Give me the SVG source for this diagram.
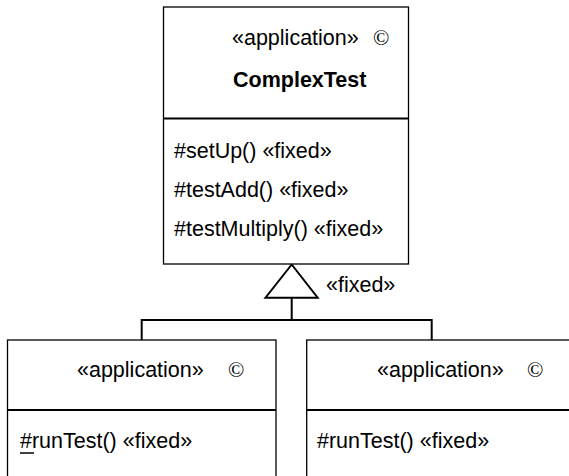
<svg xmlns="http://www.w3.org/2000/svg" width="569" height="476" viewBox="0 0 569 476">
<style>
.box{fill:#fff;stroke:#000;stroke-width:1.3}
.div{stroke:#000;stroke-width:2;fill:none}
.t{font-family:"Liberation Sans",Arial,sans-serif;font-size:21.5px;fill:#000}
.b{font-weight:bold}
.c{font-family:"Liberation Serif","Times New Roman",serif;font-size:21.5px;fill:#000}
.con{stroke:#000;stroke-width:2;fill:none}
</style>
<rect width="569" height="476" fill="#fff"/>
<g id="connectors">
<polyline class="con" points="141.7,340 141.7,320 431.7,320 431.7,343"/>
<line class="con" x1="291.7" y1="320" x2="291.7" y2="298"/>
<polygon class="con" points="291.7,264.5 265.5,297.7 317.7,297.7" fill="#fff"/>
<text class="t" x="326" y="292">«fixed»</text>
</g>
<g id="ComplexTest">
<rect class="box" x="163.5" y="7" width="245" height="257"/>
<line class="div" x1="163.5" y1="118.5" x2="408.5" y2="118.5"/>
<text class="t" x="232" y="45">«application»</text>
<text class="c" x="373" y="45">©</text>
<text class="t b" x="233" y="87">ComplexTest</text>
<text class="t" x="174" y="158">#setUp() «fixed»</text>
<text class="t" x="174" y="197">#testAdd() «fixed»</text>
<text class="t" x="174" y="236">#testMultiply() «fixed»</text>
</g>
<g id="LeftSub">
<rect class="box" x="7.5" y="340" width="268.5" height="145"/>
<line class="div" x1="7.5" y1="410" x2="276" y2="410"/>
<text class="t" x="77" y="377">«application»</text>
<text class="c" x="228" y="377">©</text>
<text class="t" x="20" y="448">#runTest() «fixed»</text>
<line x1="20" y1="453" x2="34" y2="453" stroke="#000" stroke-width="1.5"/>
</g>
<g id="RightSub">
<rect class="box" x="306.7" y="340" width="270" height="145"/>
<line class="div" x1="306.7" y1="410" x2="569" y2="410"/>
<text class="t" x="377" y="377">«application»</text>
<text class="c" x="527" y="377">©</text>
<text class="t" x="317" y="448">#runTest() «fixed»</text>
</g>
</svg>
